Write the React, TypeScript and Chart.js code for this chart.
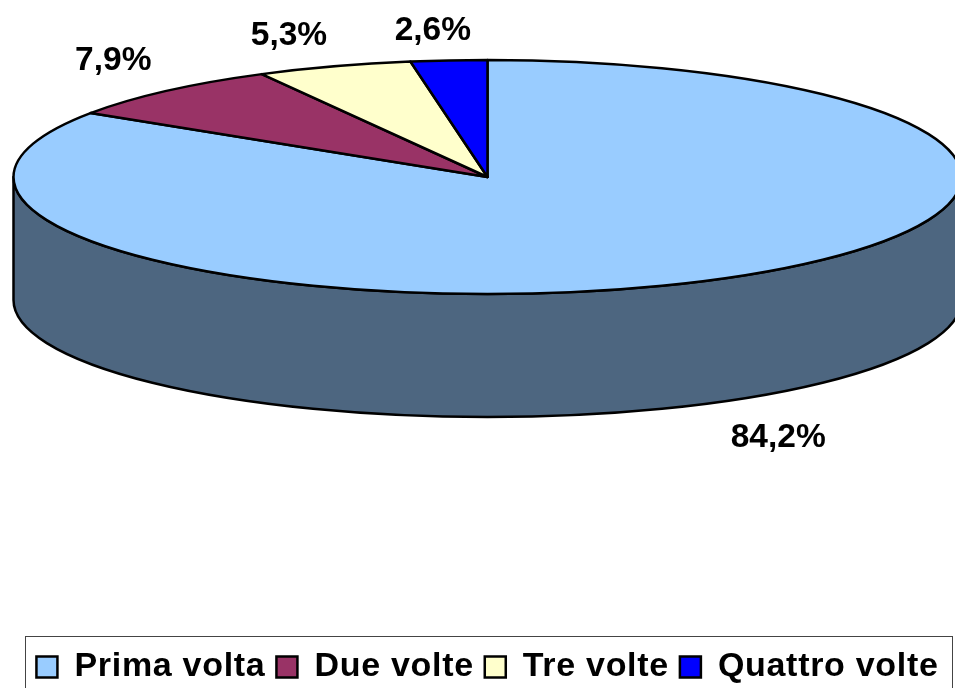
import React, { useEffect, useRef } from "react";
import { Chart, registerables } from "chart.js";

Chart.register(...registerables);

const categories = ["Prima volta", "Due volte", "Tre volte", "Quattro volte"];
const values = [84.2, 7.9, 5.3, 2.6];
const valueLabels = ["84,2%", "7,9%", "5,3%", "2,6%"];
const colors = ["#99CCFF", "#993366", "#FFFFCC", "#0000FF"];

const SIDE_COLOR = "#4D6680";
const CY = 177;
const RX = 474;
const RY = 117;
const DEPTH = 123;
const LABEL_OFFSETS = [
  [65, 158],
  [-53, -30],
  [-45, -31],
  [-16, -30],
];
const LEGEND_SPACING = "0.7px";

const pie3d = {
  id: "pie3d",
  beforeUpdate(chart: any) {
    chart.ctx.letterSpacing = LEGEND_SPACING;
  },
  beforeDraw(chart: any) {
    chart.ctx.letterSpacing = LEGEND_SPACING;
  },
  beforeDatasetDraw(chart: any) {
    const { ctx } = chart;
    const arcs = chart.getDatasetMeta(0).data;
    const cx = arcs[0].x;
    ctx.save();
    ctx.lineJoin = "round";
    ctx.lineWidth = 2.5;
    ctx.strokeStyle = "#000";

    ctx.beginPath();
    ctx.moveTo(cx - RX, CY);
    ctx.lineTo(cx - RX, CY + DEPTH);
    ctx.ellipse(cx, CY + DEPTH, RX, RY, 0, Math.PI, 0, true);
    ctx.lineTo(cx + RX, CY);
    ctx.ellipse(cx, CY, RX, RY, 0, 0, Math.PI, false);
    ctx.closePath();
    ctx.fillStyle = SIDE_COLOR;
    ctx.fill();
    ctx.stroke();

    arcs.forEach((arc: any, i: number) => {
      ctx.beginPath();
      ctx.moveTo(cx, CY);
      ctx.ellipse(cx, CY, RX, RY, 0, arc.startAngle, arc.endAngle, false);
      ctx.closePath();
      ctx.fillStyle = colors[i];
      ctx.fill();
      ctx.stroke();
    });

    ctx.letterSpacing = "0px";
    ctx.font = "bold 33.5px 'Liberation Sans'";
    ctx.fillStyle = "#000";
    ctx.textAlign = "center";
    ctx.textBaseline = "middle";
    arcs.forEach((arc: any, i: number) => {
      const mid = (arc.startAngle + arc.endAngle) / 2;
      const x = cx + RX * Math.cos(mid) + LABEL_OFFSETS[i][0];
      const y = CY + RY * Math.sin(mid) + LABEL_OFFSETS[i][1];
      ctx.fillText(valueLabels[i], x, y);
    });
    ctx.restore();
    return false;
  },
  afterDraw(chart: any) {
    const { ctx } = chart;
    ctx.save();
    ctx.strokeStyle = "#444";
    ctx.lineWidth = 1;
    ctx.strokeRect(25.5, 636.5, 927, 70);
    ctx.restore();
  },
};

export default function App() {
  const ref = useRef<HTMLCanvasElement>(null);
  useEffect(() => {
    document.body.style.margin = "0";
    document.body.style.overflow = "hidden";
    const chart = new Chart(ref.current!, {
      type: "pie",
      data: {
        labels: categories,
        datasets: [
          {
            data: values,
            backgroundColor: colors,
            borderColor: "#000",
            borderWidth: 2.5,
          },
        ],
      },
      plugins: [pie3d],
      options: {
        responsive: false,
        animation: false,
        layout: { padding: { bottom: -6 } },
        plugins: {
          tooltip: { enabled: false },
          legend: {
            position: "bottom",
            labels: {
              color: "#000",
              font: { family: "'Liberation Sans'", weight: "bold", size: 34 },
              boxWidth: 21,
              boxHeight: 21,
              padding: 11,
            },
          },
        },
      },
    } as any);
    return () => chart.destroy();
  }, []);
  return (
    <div style={{ position: "fixed", left: 0, top: 0, width: 955, height: 688, overflow: "hidden", background: "#fff" }}>
      <canvas ref={ref} width={975} height={688} style={{ display: "block" }} />
    </div>
  );
}
